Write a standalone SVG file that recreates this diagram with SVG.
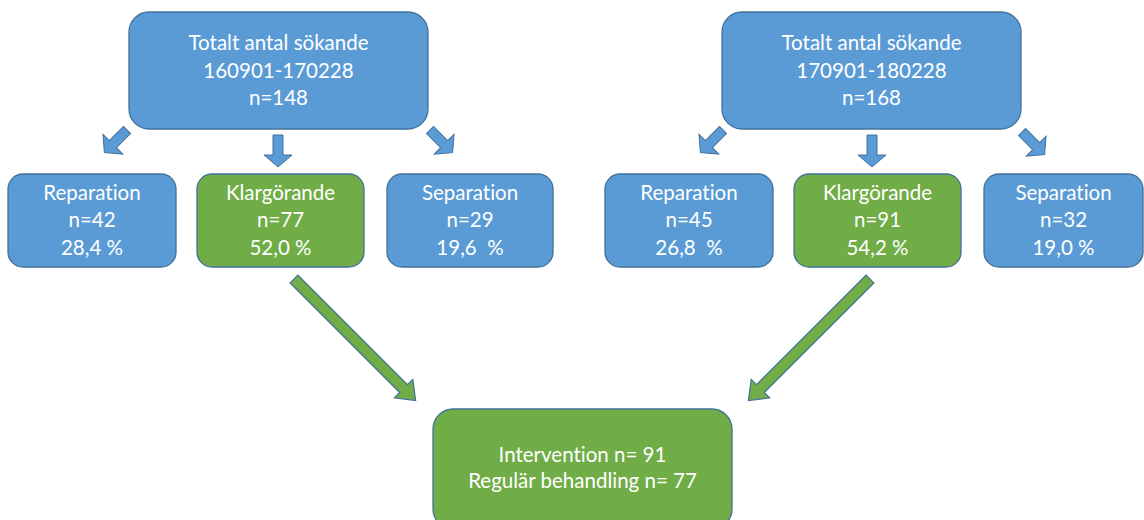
<svg xmlns="http://www.w3.org/2000/svg" width="1144" height="520" viewBox="0 0 1144 520">
<defs>
<style>
.blue{fill:#5B9BD5;stroke:#41719C;stroke-width:1.3}
.green{fill:#70AD47;stroke:#41719C;stroke-width:1.3}
.t{font-family:Lato,"Liberation Sans",sans-serif;font-size:20.5px;fill:#FFFFFF;text-anchor:middle;font-variant-ligatures:none}
.sa{fill:#5B9BD5;stroke:#41719C;stroke-width:1}
.ga{fill:#70AD47;stroke:#41719C;stroke-width:1.2}
</style>
<path id="small" d="M-5,0 H5 V20 H14 L0,32 L-14,20 H-5 Z"/>
<path id="big" d="M-5.5,0 H5.5 V155 H13 L0,172 L-13,155 H-5.5 Z"/>
</defs>
<rect width="1144" height="520" fill="#FFFFFF"/>
<g id="connectors">
<use href="#small" class="sa" transform="translate(127,130) rotate(45)"/>
<use href="#small" class="sa" transform="translate(278,135)"/>
<use href="#small" class="sa" transform="translate(430,130) rotate(-45)"/>
<use href="#small" class="sa" transform="translate(723,130) rotate(45)"/>
<use href="#small" class="sa" transform="translate(872,135)"/>
<use href="#small" class="sa" transform="translate(1022,132) rotate(-45)"/>
<use href="#big" class="ga" transform="translate(294,279) rotate(-45)"/>
<use href="#big" class="ga" transform="translate(870,279) rotate(45)"/>
</g>
<g id="top-left">
<rect class="blue" x="129" y="12" width="299" height="117" rx="20"/>
<text class="t" x="278.5" y="50">Totalt antal sökande</text>
<text class="t" x="278.5" y="78">160901-170228</text>
<text class="t" x="278.5" y="105">n=148</text>
</g>
<g id="top-right">
<rect class="blue" x="722" y="12" width="299" height="117" rx="20"/>
<text class="t" x="871.5" y="50">Totalt antal sökande</text>
<text class="t" x="871.5" y="78">170901-180228</text>
<text class="t" x="871.5" y="105">n=168</text>
</g>
<g id="rep-left">
<rect class="blue" x="8" y="174" width="168" height="93" rx="15"/>
<text class="t" x="92" y="200">Reparation</text>
<text class="t" x="92" y="227">n=42</text>
<text class="t" x="92" y="255">28,4 %</text>
</g>
<g id="klar-left">
<rect class="green" x="197" y="174" width="167" height="93" rx="15"/>
<text class="t" x="280.5" y="200">Klargörande</text>
<text class="t" x="280.5" y="227">n=77</text>
<text class="t" x="280.5" y="255">52,0 %</text>
</g>
<g id="sep-left">
<rect class="blue" x="387" y="174" width="166" height="93" rx="15"/>
<text class="t" x="470" y="200">Separation</text>
<text class="t" x="470" y="227">n=29</text>
<text class="t" x="470" y="255" xml:space="preserve">19,6  %</text>
</g>
<g id="rep-right">
<rect class="blue" x="605" y="174" width="168" height="93" rx="15"/>
<text class="t" x="689" y="200">Reparation</text>
<text class="t" x="689" y="227">n=45</text>
<text class="t" x="689" y="255" xml:space="preserve">26,8  %</text>
</g>
<g id="klar-right">
<rect class="green" x="794" y="174" width="167" height="93" rx="15"/>
<text class="t" x="877.5" y="200">Klargörande</text>
<text class="t" x="877.5" y="227">n=91</text>
<text class="t" x="877.5" y="255">54,2 %</text>
</g>
<g id="sep-right">
<rect class="blue" x="984" y="174" width="159" height="93" rx="15"/>
<text class="t" x="1063.5" y="200">Separation</text>
<text class="t" x="1063.5" y="227">n=32</text>
<text class="t" x="1063.5" y="255">19,0 %</text>
</g>
<g id="result">
<rect class="green" x="433" y="409" width="299" height="120" rx="20"/>
<text class="t" x="582.5" y="462">Intervention n= 91</text>
<text class="t" x="582.5" y="488">Regulär behandling n= 77</text>
</g>
</svg>
